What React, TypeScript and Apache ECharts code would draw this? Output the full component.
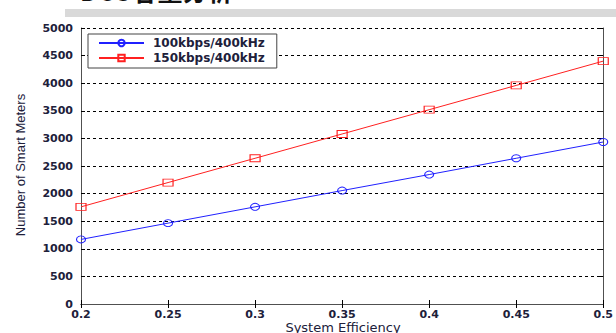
import React, { useEffect, useRef } from "react";
import * as echarts from "echarts";

const efficiency = [0.2, 0.25, 0.3, 0.35, 0.4, 0.45, 0.5];
const meters100 = [1170, 1465, 1760, 2055, 2345, 2640, 2935];
const meters150 = [1760, 2200, 2640, 3080, 3520, 3960, 4400];
const seriesNames = ["100kbps/400kHz", "150kbps/400kHz"];
const xTitle = "System Efficiency";
const yTitle = "Number of Smart Meters";
const topCaption = "DCU容量分析";

export default function App() {
  const ref = useRef<HTMLDivElement>(null);
  useEffect(() => {
    if (!ref.current) return;
    const chart = echarts.init(ref.current, null, { renderer: "svg" });
    const tickFont = {
      fontFamily: "DejaVu Sans",
      fontWeight: "bold" as const,
      fontSize: 11,
      color: "#20203a",
    };
    const frame = { show: true, lineStyle: { color: "#505050", width: 1 } };
    const tick = { show: true, inside: true, length: 4, lineStyle: { color: "#000", width: 1 } };
    chart.setOption({
      animation: false,
      backgroundColor: "#fff",
      grid: { left: 81, right: 6, top: 28, bottom: 29, containLabel: false },
      legend: {
        orient: "vertical",
        left: 88,
        top: 34,
        padding: [2, 12, 3, 10],
        itemWidth: 45,
        itemHeight: 8,
        itemGap: 1,
        backgroundColor: "#fff",
        borderColor: "#444",
        borderWidth: 1,
        borderRadius: 0,
        textStyle: {
          fontFamily: "DejaVu Sans",
          fontWeight: "bold",
          fontSize: 12,
          lineHeight: 14,
          color: "#20203a",
          padding: [0, 0, 0, 4],
        },
        data: seriesNames,
      },
      xAxis: [
        {
          type: "value",
          min: 0.2,
          max: 0.5,
          interval: 0.05,
          z: 3,
          axisLine: frame,
          axisTick: tick,
          axisLabel: {
            ...tickFont,
            margin: 5,
            formatter: (v: number) => String(Number(v.toFixed(2))),
          },
          splitLine: { show: false },
        },
        {
          type: "value",
          position: "top",
          min: 0.2,
          max: 0.5,
          interval: 0.05,
          z: 3,
          axisLine: frame,
          axisTick: tick,
          axisLabel: { show: false },
          splitLine: { show: false },
        },
      ],
      yAxis: [
        {
          type: "value",
          min: 0,
          max: 5000,
          interval: 500,
          axisLine: frame,
          axisTick: tick,
          axisLabel: { ...tickFont, margin: 8, formatter: (v: number) => String(v) },
          splitLine: { show: true, lineStyle: { color: "#000", width: 1, type: [3, 3] } },
        },
        {
          type: "value",
          position: "right",
          min: 0,
          max: 5000,
          interval: 500,
          axisLine: frame,
          axisTick: tick,
          axisLabel: { show: false },
          splitLine: { show: false },
        },
      ],
      series: [
        {
          name: seriesNames[0],
          type: "line",
          data: efficiency.map((x, i) => [x, meters100[i]]),
          symbol: "circle",
          symbolSize: [9, 7],
          lineStyle: { color: "#2020ff", width: 1 },
          itemStyle: { color: "rgba(255,255,255,0)", borderColor: "#2020ff", borderWidth: 1 },
          z: 4,
        },
        {
          name: seriesNames[1],
          type: "line",
          data: efficiency.map((x, i) => [x, meters150[i]]),
          symbol: "rect",
          symbolSize: [10, 7],
          lineStyle: { color: "#ff2020", width: 1 },
          itemStyle: { color: "rgba(255,255,255,0)", borderColor: "#ff2020", borderWidth: 1 },
          z: 4,
        },
      ],
      graphic: [
        {
          type: "rect",
          shape: { x: 65, y: 9, width: 551, height: 8 },
          style: { fill: "#d9d9d9" },
          silent: true,
        },
        {
          type: "text",
          x: 80,
          y: 2,
          style: {
            text: topCaption,
            fontFamily: "Noto Sans CJK SC",
            fontWeight: "bold",
            fontSize: 25,
            fill: "#111",
            align: "left",
            verticalAlign: "bottom",
          },
          silent: true,
        },
        {
          type: "text",
          x: 20,
          y: 165,
          rotation: Math.PI / 2,
          style: {
            text: yTitle,
            fontFamily: "Liberation Sans Narrow, Liberation Sans",
            fontSize: 13,
            fill: "#20203a",
            align: "center",
            verticalAlign: "middle",
          },
          silent: true,
        },
        {
          type: "text",
          x: 343,
          y: 327,
          style: {
            text: xTitle,
            fontFamily: "DejaVu Sans",
            fontSize: 13,
            fill: "#20203a",
            align: "center",
            verticalAlign: "middle",
          },
          silent: true,
        },
      ],
    });
    return () => chart.dispose();
  }, []);
  return (
    <div
      ref={ref}
      style={{ position: "absolute", left: 0, top: 0, width: 616, height: 333 }}
    />
  );
}
